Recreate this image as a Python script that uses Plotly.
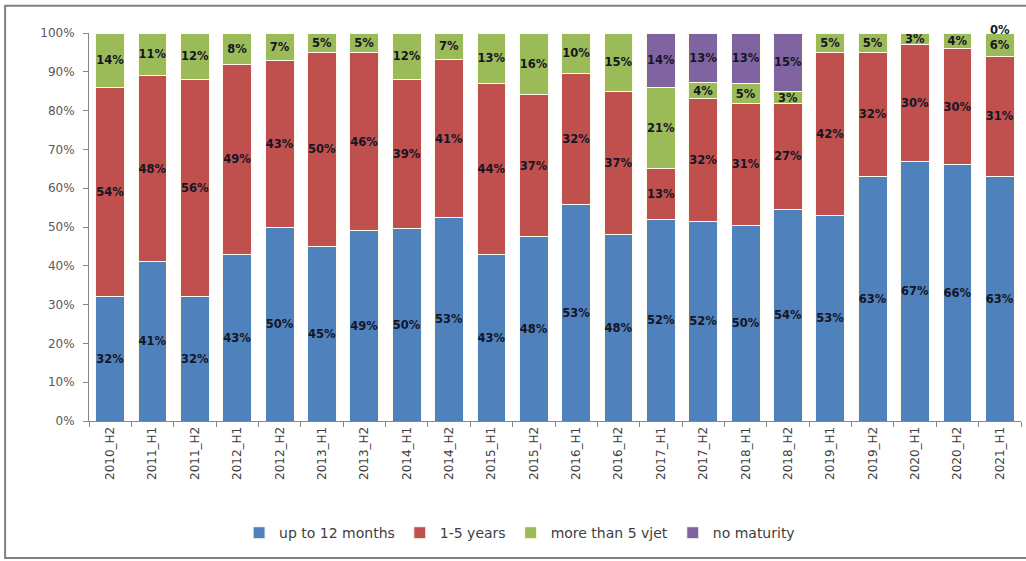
import plotly.graph_objects as go

# Half-year periods
periods = ["2010_H2", "2011_H1", "2011_H2", "2012_H1", "2012_H2", "2013_H1", "2013_H2",
           "2014_H1", "2014_H2", "2015_H1", "2015_H2", "2016_H1", "2016_H2", "2017_H1",
           "2017_H2", "2018_H1", "2018_H2", "2019_H1", "2019_H2", "2020_H1", "2020_H2",
           "2021_H1"]

# Shares by maturity (percent); None = category not reported in that period
up_to_12_months = [32, 41, 32, 43, 50, 45, 49, 50, 53, 43, 48, 53, 48, 52, 52, 50, 54, 53, 63, 67, 66, 63]
one_to_five_years = [54, 48, 56, 49, 43, 50, 46, 39, 41, 44, 37, 32, 37, 13, 32, 31, 27, 42, 32, 30, 30, 31]
more_than_5_vjet = [14, 11, 12, 8, 7, 5, 5, 12, 7, 13, 16, 10, 15, 21, 4, 5, 3, 5, 5, 3, 4, 6]
no_maturity = [None] * 13 + [14, 13, 13, 15] + [None] * 4 + [0]

series = [
    ("up to 12 months", up_to_12_months, "#4f81bd"),
    ("1-5 years", one_to_five_years, "#c0504d"),
    ("more than 5 vjet", more_than_5_vjet, "#9bbb59"),
    ("no maturity", no_maturity, "#8064a2"),
]

label_font = dict(family="DejaVu Sans", size=11.5, color="#151525", weight="bold")

fig = go.Figure()
for name, vals, color in series:
    y = [0 if v is None else v for v in vals]
    texts = ["" if not v else f"{v}%" for v in vals]
    fig.add_trace(go.Bar(
        name=name,
        x=periods,
        y=y,
        marker=dict(color=color, line=dict(color="#fdfbe8", width=1)),
        text=texts,
        textposition="inside",
        insidetextanchor="middle",
        textangle=0,
        cliponaxis=False,
        textfont=label_font,
    ))
    # zero-valued shares still get their label, sitting on top of the stack
    for p, v in zip(periods, vals):
        if v == 0:
            fig.add_annotation(x=p, y=100, text=f"{v}%", showarrow=False,
                               yanchor="bottom", yshift=-6, font=label_font)

fig.update_layout(
    width=1026,
    height=561,
    barmode="stack",
    barnorm="percent",
    bargap=0.32,
    plot_bgcolor="white",
    paper_bgcolor="white",
    margin=dict(l=89, r=5, t=33, b=140),
    font=dict(family="DejaVu Sans", color="#404040"),
    uniformtext=dict(minsize=11.5, mode="show"),
    legend=dict(
        orientation="h",
        x=0.462, xanchor="center",
        y=-0.289, yanchor="middle",
        font=dict(size=14, color="#404040"),
        traceorder="normal",
        itemwidth=30,
    ),
    showlegend=True,
)

fig.update_yaxes(
    # tiny headroom so normalised stacks that round just past 100 keep their labels
    range=[0, 100.001],
    tickvals=[0, 10, 20, 30, 40, 50, 60, 70, 80, 90, 100],
    ticktext=[f"{v}%" for v in range(0, 101, 10)],
    showgrid=False,
    zeroline=False,
    showline=True,
    linecolor="#868686",
    ticks="outside",
    ticklen=5,
    tickcolor="#868686",
    ticklabelstandoff=6,
    tickfont=dict(size=12, color="#595959"),
)

fig.update_xaxes(
    tickangle=-90,
    showgrid=False,
    showline=True,
    linecolor="#868686",
    ticks="outside",
    tickson="boundaries",
    ticklen=5,
    tickcolor="#868686",
    tickfont=dict(size=12, color="#404040"),
)

# Outer frame around the chart
fig.add_shape(
    type="rect", xref="paper", yref="paper",
    x0=-0.09, x1=1.02, y0=-0.353, y1=1.07,
    line=dict(color="#7f7f7f", width=2),
    fillcolor="rgba(0,0,0,0)",
    layer="below",
)

fig.write_html("out.html")
